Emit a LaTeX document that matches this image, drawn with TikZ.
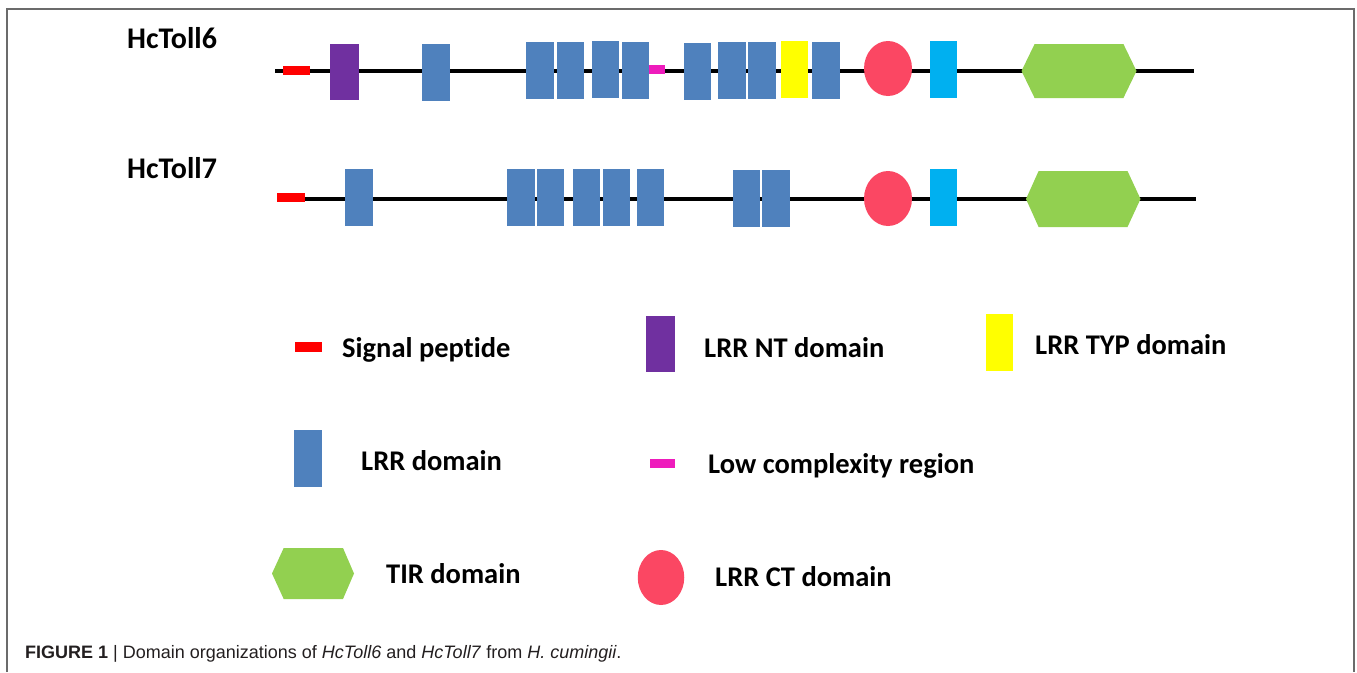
\documentclass[tikz,border=0pt]{standalone}
\usepackage{fontspec}
\setmainfont[Ligatures=NoCommon]{Carlito}
\newfontfamily\capfont{Liberation Sans}
\usetikzlibrary{shapes.geometric}
\definecolor{lrrblue}{HTML}{4F81BD}
\definecolor{ntpurple}{HTML}{7030A0}
\definecolor{sigred}{HTML}{FF0000}
\definecolor{lowpink}{HTML}{EE1CBC}
\definecolor{typyellow}{HTML}{FFFF00}
\definecolor{tmcyan}{HTML}{00B0F0}
\definecolor{ctred}{HTML}{FB4763}
\definecolor{tirgreen}{HTML}{92D050}
\definecolor{framegray}{HTML}{6B6B6B}
\definecolor{captext}{HTML}{231F20}
\begin{document}
\begin{tikzpicture}[x=1pt,y=-1pt,
  box/.style={rectangle,inner sep=0pt,outer sep=0pt,draw=none},
  lrr/.style={box,fill=lrrblue,minimum width=27.5pt,minimum height=57pt},
  nt/.style={box,fill=ntpurple,minimum width=29pt,minimum height=56pt},
  sig/.style={box,fill=sigred,minimum width=27.5pt,minimum height=9pt},
  low/.style={box,fill=lowpink,minimum width=16pt,minimum height=9pt},
  typ/.style={box,fill=typyellow,minimum width=27pt,minimum height=57pt},
  tm/.style={box,fill=tmcyan,minimum width=27pt,minimum height=57pt},
  ct/.style={ellipse,inner sep=0pt,fill=ctred,minimum width=48pt,minimum height=55pt},
  tir/.style={fill=tirgreen},
  backbone/.style={line width=4pt,black},
  title/.style={inner sep=0pt,anchor=base west,font=\bfseries\fontsize{30}{36}\selectfont},
  legtext/.style={inner sep=0pt,anchor=base west,font=\bfseries\fontsize{28.5}{34}\selectfont}
]
\useasboundingbox (0,0) rectangle (1357,672);
\fill[white] (0,0) rectangle (1357,672);
\draw[framegray,line width=1.8pt] (7,672) -- (7,9) -- (1354,9) -- (1354,672);

% ---------- HcToll6 ----------
\node[title] (t6) at (127,48) {HcToll6};
\coordinate (a6) at (275,71);
\coordinate (b6) at (1194,71);
\draw[backbone] (a6) -- (b6);
\node[sig] (s6) at (296.5,70.5) {};
\node[nt] (n6) at (344,72) {};
\node[lrr] (r61) at (436,72.5) {};
\node[lrr] (r62) at (540,70.5) {};
\node[lrr] (r63) at (570.5,70.5) {};
\node[lrr] (r64) at (605.5,69.5) {};
\node[lrr] (r65) at (635.5,70.5) {};
\node[low] (l6) at (657,69.5) {};
\node[lrr] (r66) at (697.5,71) {};
\node[lrr] (r67) at (732,70.5) {};
\node[lrr] (r68) at (762,70.5) {};
\node[typ] (y6) at (794,69.5) {};
\node[lrr] (r69) at (826,70.5) {};
\node[ct] (c6) at (888,68.5) {};
\node[tm] (m6) at (943,69.5) {};
\fill[tir] (1021.5,71) -- (1034.6,44) -- (1123.4,44) -- (1136.5,71) -- (1123.4,98) -- (1034.6,98) -- cycle;

% ---------- HcToll7 ----------
\node[title] (t7) at (127,178) {HcToll7};
\coordinate (a7) at (277,199);
\coordinate (b7) at (1196,199);
\draw[backbone] (a7) -- (b7);
\node[sig] (s7) at (291,197.5) {};
\node[lrr] (r71) at (359,197.5) {};
\node[lrr] (r72) at (521,197.5) {};
\node[lrr] (r73) at (550.5,197.5) {};
\node[lrr] (r74) at (586.5,197.5) {};
\node[lrr] (r75) at (616.5,197.5) {};
\node[lrr] (r76) at (650.5,197.5) {};
\node[lrr] (r77) at (746.5,198.5) {};
\node[lrr] (r78) at (776,198.5) {};
\node[ct] (c7) at (888,198.5) {};
\node[tm] (m7) at (943,197.5) {};
\fill[tir] (1026,199) -- (1038.6,171) -- (1127.5,171) -- (1140.5,199) -- (1127.5,227) -- (1038.6,227) -- cycle;

% ---------- Legend ----------
\node[sig,minimum height=10pt] (ks) at (308.5,347) {};
\node[legtext] (kst) at (342,357) {Signal peptide};
\node[nt] (kn) at (660.5,344) {};
\node[legtext] (knt) at (704,357) {LRR NT domain};
\node[typ] (ky) at (999.5,342.5) {};
\node[legtext] (kyt) at (1035,354) {LRR TYP domain};
\node[lrr] (kr) at (308,458.5) {};
\node[legtext] (krt) at (361,470) {LRR domain};
\node[low,minimum width=25pt] (kl) at (662.5,463.5) {};
\node[legtext] (klt) at (708,473) {Low complexity region};
\fill[tir] (272,573.5) -- (283.7,548) -- (343,548) -- (354,573.5) -- (343,599) -- (283.7,599) -- cycle;
\node[legtext] (ktt) at (386,583) {TIR domain};
\node[ct,minimum width=46.5pt] (kc) at (661,577.5) {};
\node[legtext] (kct) at (715,586) {LRR CT domain};

% ---------- Caption ----------
\node[inner sep=0pt,anchor=base west,text=captext,font=\capfont\fontsize{18}{22}\selectfont] (cap) at (25,658)
  {\textbf{FIGURE 1} | Domain organizations of \textit{HcToll6} and \textit{HcToll7} from \textit{H. cumingii}.};
\end{tikzpicture}
\end{document}
